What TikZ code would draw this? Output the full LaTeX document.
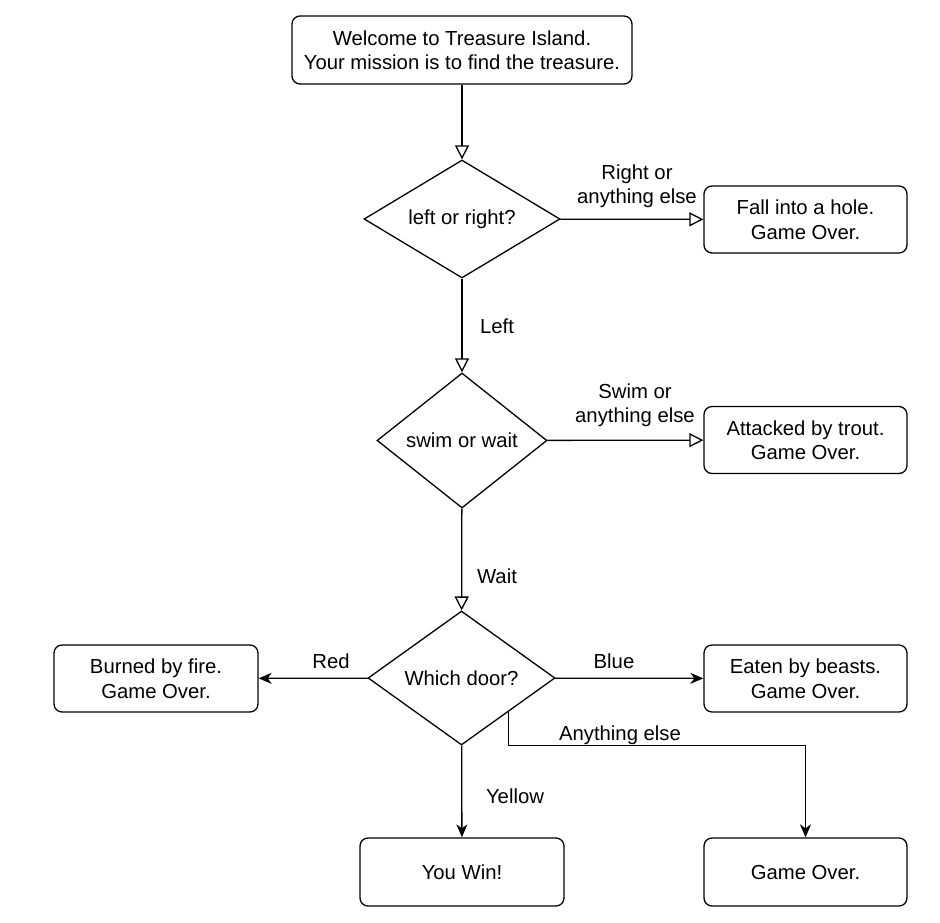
\documentclass[tikz,border=0pt]{standalone}
\usepackage{fontspec}
\setmainfont{Liberation Sans}
\usetikzlibrary{shapes.geometric,arrows.meta,calc}

\begin{document}
\begin{tikzpicture}[x=1pt,y=-1pt,line width=1.3pt,
  every node/.style={font=\fontsize{20.3}{24.5}\selectfont,align=center},
  box/.style={draw,rounded corners=8pt,minimum width=203pt,minimum height=67pt,inner sep=2pt},
  choice/.style={draw,diamond,inner sep=0pt,aspect=1.4},
  opn/.style={-{Triangle[open,length=14pt,width=14pt]}},
  fil/.style={-{Stealth[length=13pt,width=11pt,inset=4pt]}}]
  \useasboundingbox (0,0) rectangle (940,922);
  \node[box,minimum width=340pt,minimum height=68pt] (start) at (462,50) {Welcome to Treasure Island.\\Your mission is to find the treasure.};
  \node[choice,minimum width=196pt,minimum height=118pt] (lr) at (462,219) {left or right?};
  \node[box] (hole) at (805.5,219.5) {Fall into a hole.\\Game Over.};
  \node[choice,minimum width=170pt,minimum height=135pt] (sw) at (462,440.5) {swim or wait};
  \node[box] (trout) at (805.5,440) {Attacked by trout.\\Game Over.};
  \node[choice,minimum width=187pt,minimum height=134pt] (door) at (461.5,678) {Which door?};
  \node[box,minimum width=204pt] (fire) at (156,678.5) {Burned by fire.\\Game Over.};
  \node[box] (beasts) at (805.5,678.5) {Eaten by beasts.\\Game Over.};
  \node[box,minimum width=204pt,minimum height=68pt] (win) at (462,872) {You Win!};
  \node[box,minimum height=68pt] (over) at (805.5,872) {Game Over.};
  \coordinate (doorse) at ($(door.east)!0.5!(door.south)$);
  % connectors
  \draw[opn] (start) -- (lr);
  \draw[opn] (lr) -- (hole);
  \draw[opn] (lr) -- (sw);
  \draw[opn] (sw) -- (trout);
  \draw[opn] (sw) -- (door);
  \draw[fil] (door) -- (fire);
  \draw[fil] (door) -- (beasts);
  \draw[fil] (door) -- (win);
  \draw[fil] (doorse) -- ++(0,34) -| (over.north);
  % labels
  \node (lright) at (637,186) {Right or\\anything else};
  \node (lleft) at (497,326) {Left};
  \node (lswim) at (635,405) {Swim or\\anything else};
  \node (lwait) at (497,576) {Wait};
  \node (lred) at (331,661) {Red};
  \node (lblue) at (614,661) {Blue};
  \node (lyellow) at (515,796) {Yellow};
  \node (lelse) at (620,735) {Anything else};
\end{tikzpicture}
\end{document}
